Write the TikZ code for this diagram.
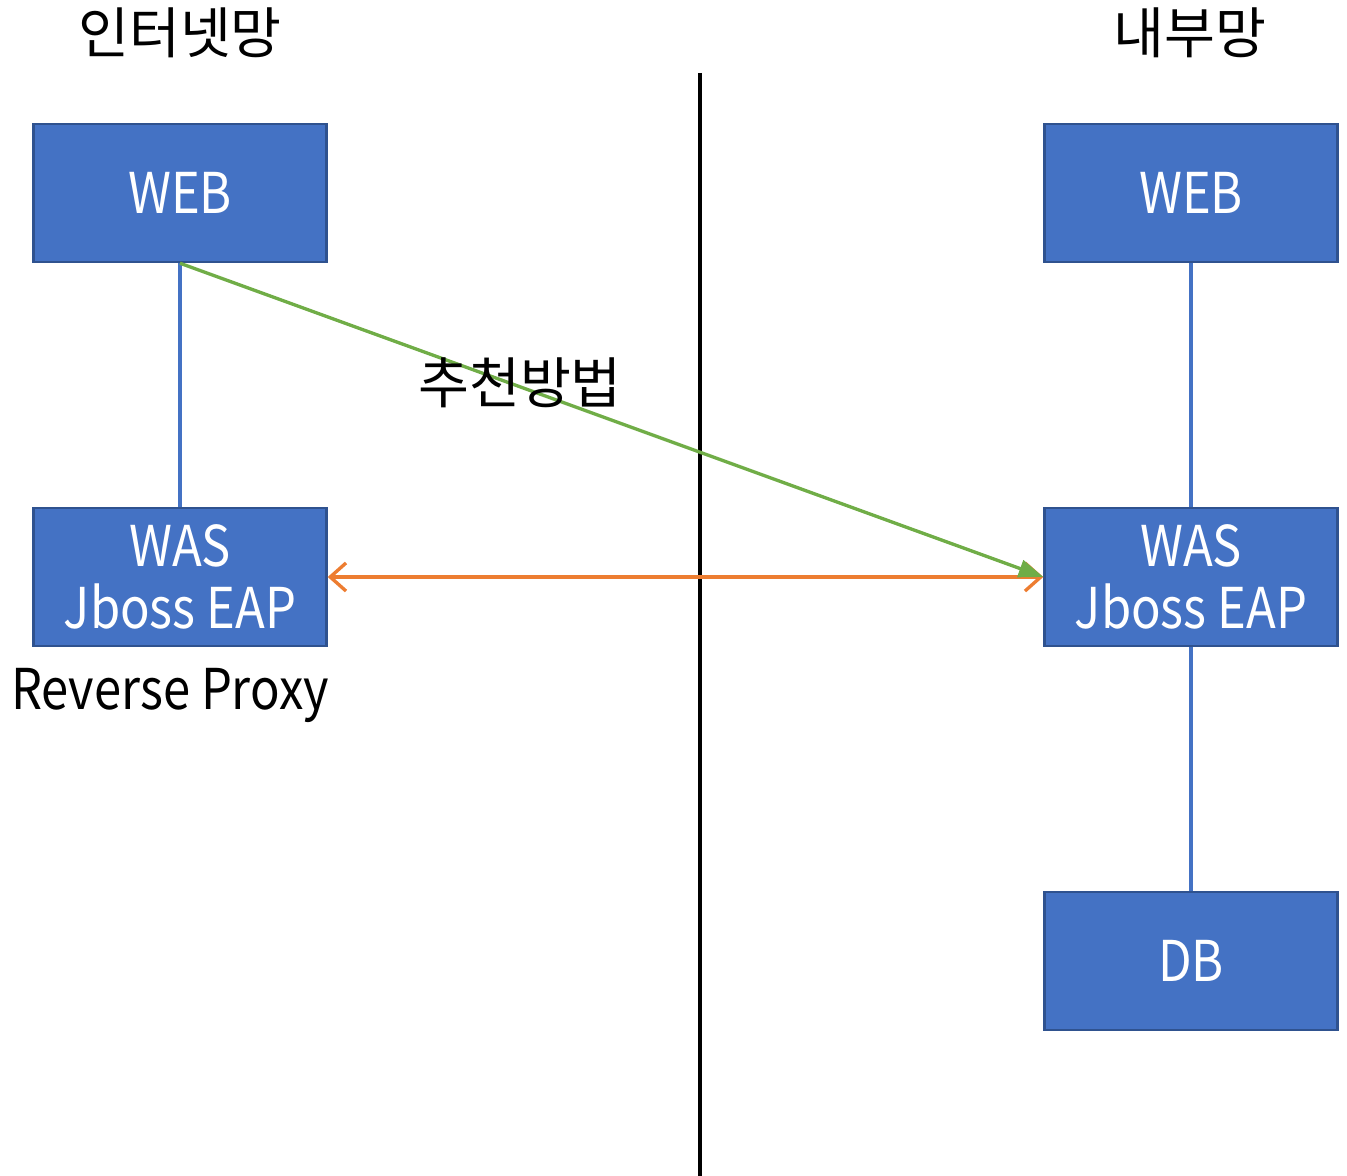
\documentclass[tikz,border=0pt]{standalone}
\usepackage{fontspec}
\setmainfont{Noto Sans CJK KR}
\newfontfamily\latinfont[FakeStretch=0.87]{Noto Sans CJK KR}
\usetikzlibrary{arrows.meta}
\definecolor{boxblue}{HTML}{4472C4}
\definecolor{boxedge}{HTML}{2F528F}
\definecolor{arrgreen}{HTML}{70AD47}
\definecolor{arrorange}{HTML}{ED7D31}
\tikzset{
 srvbox/.style={shape=rectangle,draw=boxedge,line width=1.4pt,fill=boxblue,text=white,minimum width=5.86cm,minimum height=2.76cm,align=center,font=\latinfont\fontsize{32}{35}\selectfont,inner sep=0pt},
 link/.style={draw=boxblue,line width=1.9pt},
 lbl/.style={font=\fontsize{31.5}{36}\selectfont,inner sep=0pt},
 latinlbl/.style={font=\latinfont\fontsize{32}{36}\selectfont,inner sep=0pt}
}
\begin{document}
\begin{tikzpicture}[x=0.02cm,y=-0.02cm]
 \useasboundingbox (0,0) rectangle (1347,1176);
 \node (inet) at (180,33) [lbl] {인터넷망};
 \node (intra) at (1190,33) [lbl] {내부망};
 \coordinate (wall top) at (700,73);
 \coordinate (wall bot) at (700,1176);
 \draw[line width=1.9pt] (wall top) -- (wall bot);
 \node (web l) at (180,193) [srvbox] {WEB};
 \node (was l) at (180,577) [srvbox] {WAS\\Jboss EAP};
 \node (web r) at (1191,193) [srvbox] {WEB};
 \node (was r) at (1191,577) [srvbox] {WAS\\Jboss EAP};
 \node (db) at (1191,961) [srvbox] {DB};
 \node (proxy) at (170,695) [latinlbl] {Reverse Proxy};
 \draw[link] (web l) -- (was l);
 \draw[link] (web r) -- (was r);
 \draw[link] (was r) -- (db);
 \draw[draw=arrorange,line width=1.9pt,{Straight Barb[length=9pt,width=16pt]}-{Straight Barb[length=9pt,width=16pt]}] (was l.east) -- (was r.west);
 \draw[draw=arrgreen,fill=arrgreen,line width=1.9pt,-{Triangle[length=14pt,width=10pt]}] (web l.south) -- (was r.west);
 \node (best) at (520,383) [lbl] {추천방법};
\end{tikzpicture}
\end{document}
